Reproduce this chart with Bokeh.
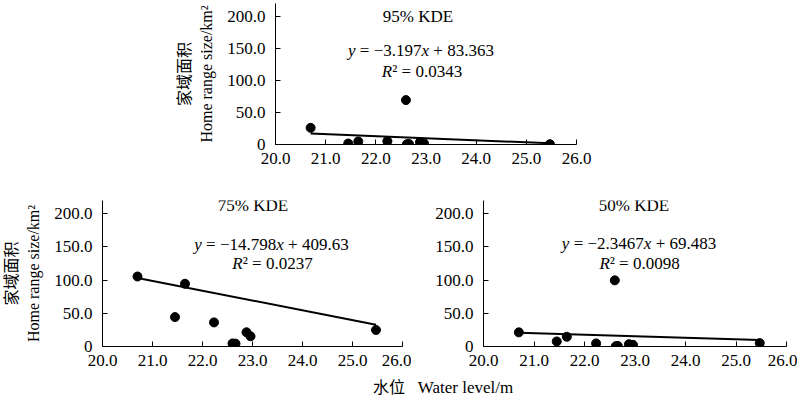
import numpy as np
from bokeh.plotting import figure
from bokeh.layouts import column, row
from bokeh.models import Label, FixedTicker, Range1d, Spacer, Div
from bokeh.embed import file_html
from bokeh.resources import INLINE

# ---------------- data ----------------
water_level = [20.70, 21.45, 21.65, 22.23, 22.60, 22.62, 22.66, 22.88, 22.96, 25.47]
kde95 = [26.0, 1.5, 4.7, 5.2, 69.3, 0.5, 0.8, 3.6, 1.5, 0.5]
kde75 = [105.5, 44.3, 94.5, 36.3, 4.5, 4.0, 4.3, 21.4, 15.4, 24.9]
kde50 = [21.3, 7.6, 14.7, 4.6, 99.7, 0.5, 0.8, 3.5, 2.5, 5.1]

panel_titles = ["95% KDE", "75% KDE", "50% KDE"]
slopes = [-3.197, -14.798, -2.3467]
intercepts = [83.363, 409.63, 69.483]
slope_text = ["−3.197", "−14.798", "−2.3467"]
intercept_text = ["83.363", "409.63", "69.483"]
r2_text = ["0.0343", "0.0237", "0.0098"]

x_ticks = [20, 21, 22, 23, 24, 25, 26]
x_tick_labels = ["20.0", "21.0", "22.0", "23.0", "24.0", "25.0", "26.0"]
y_ticks = [0, 50, 100, 150, 200]
y_tick_labels = ["0", "50.0", "100.0", "150.0", "200.0"]

y_title = "家域面积\nHome range size/km²"
x_title_cn = "水位"
x_title_en = "Water level/m"

SERIF = "Liberation Serif"
CJK = "Noto Sans CJK SC"
FS = 17

# approximate Times/Liberation Serif advance widths (em)
W_REG = {" ": 0.25, "=": 0.564, "+": 0.564, "−": 0.564, ".": 0.25, "²": 0.3}
W_IT = {"y": 0.444, "x": 0.444, "R": 0.611}


def seg_width(text, italic):
    tbl = W_IT if italic else W_REG
    return sum(tbl.get(c, 0.5) for c in text) * FS


def add_rich(p, x, y, segs):
    total = sum(seg_width(t, it) for t, it in segs)
    off = -total / 2.0
    for t, it in segs:
        lead = len(t) - len(t.lstrip(" "))
        shown = t.strip(" ")
        p.add_layout(Label(x=x, y=y, x_offset=off + lead * W_REG[" "] * FS, text=shown,
                           text_align="left", text_baseline="middle",
                           text_font=SERIF, text_font_size=f"{FS}px",
                           text_font_style="italic" if it else "normal",
                           text_color="black"))
        off += seg_width(t, it)


def make_panel(values, i, width, height, borders, ymax, ytitle, pos):
    left, right, top, bottom = borders
    p = figure(width=width, height=height, output_backend="svg", toolbar_location=None,
               x_range=Range1d(20, 26), y_range=Range1d(0, ymax),
               min_border_left=left, min_border_right=right,
               min_border_top=top, min_border_bottom=bottom)
    p.grid.visible = False
    p.outline_line_color = None
    p.background_fill_color = "white"
    p.border_fill_color = "white"

    for ax in (p.xaxis, p.yaxis):
        ax.axis_line_color = "black"
        ax.axis_line_width = 1
        ax.major_tick_line_color = "black"
        ax.major_tick_out = 0
        ax.major_tick_in = 5
        ax.minor_tick_line_color = None
        ax.major_label_text_font = SERIF
        ax.major_label_text_font_size = f"{FS}px"
        ax.major_label_text_color = "black"
    p.xaxis.ticker = FixedTicker(ticks=x_ticks)
    p.xaxis.major_label_overrides = dict(zip(x_ticks, x_tick_labels))
    p.xaxis.major_label_standoff = 8
    p.yaxis.ticker = FixedTicker(ticks=y_ticks)
    p.yaxis.major_label_overrides = dict(zip(y_ticks, y_tick_labels))
    p.yaxis.major_label_standoff = 10
    if ytitle:
        p.yaxis.axis_label = y_title
        p.yaxis.axis_label_text_font = f"{SERIF}, {CJK}"
        p.yaxis.axis_label_text_font_size = "16px"
        p.yaxis.axis_label_text_font_style = "normal"
        p.yaxis.axis_label_text_color = "black"
        p.yaxis.axis_label_standoff = 9
        p.yaxis.axis_label_text_line_height = 1.3

    xs = np.array([min(water_level), max(water_level)])
    p.line(xs, slopes[i] * xs + intercepts[i], line_color="black", line_width=2)
    p.scatter(water_level, values, size=9, marker="circle",
              fill_color="black", line_color="black")

    tx, ty, ex, ey, rx, ry = pos
    p.add_layout(Label(x=tx, y=ty, text=panel_titles[i], text_align="center",
                       text_baseline="middle", text_font=SERIF,
                       text_font_size=f"{FS}px", text_color="black"))
    add_rich(p, ex, ey, [("y", True), (" = " + slope_text[i], False), ("x", True),
                         (" + " + intercept_text[i], False)])
    add_rich(p, rx, ry, [("R", True), ("² = " + r2_text[i], False)])
    return p


# top panel: frame x 275..576, y 3..144 ; bottom panels: frame y 200..346
p1 = make_panel(kde95, 0, 436, 178, (115, 20, 3, 34), 220, True,
                (22.84, 200, 22.90, 146, 22.92, 114))
p2 = make_panel(kde75, 1, 411, 196, (98, 9, 22, 28), 220, True,
                (23.01, 212, 23.38, 154, 23.40, 125))
p3 = make_panel(kde50, 2, 386, 196, (72, 11, 22, 28), 220, False,
                (22.98, 212, 23.08, 155, 23.09, 125))

x_title = Div(
    text=(f"<span style=\"font-family:'{CJK}'; font-size:16px\">{x_title_cn}</span>"
          f"&nbsp;&nbsp;&nbsp;{x_title_en}"),
    width=220, height=24,
    styles={"font-family": SERIF, "font-size": f"{FS}px", "line-height": "24px",
            "white-space": "nowrap", "color": "black", "margin": "0", "padding": "0"})

layout = column(row(Spacer(width=160, height=178), p1),
                row(p2, p3),
                row(Spacer(width=373, height=24), x_title))

open("out.html", "w").write(file_html(layout, INLINE))
